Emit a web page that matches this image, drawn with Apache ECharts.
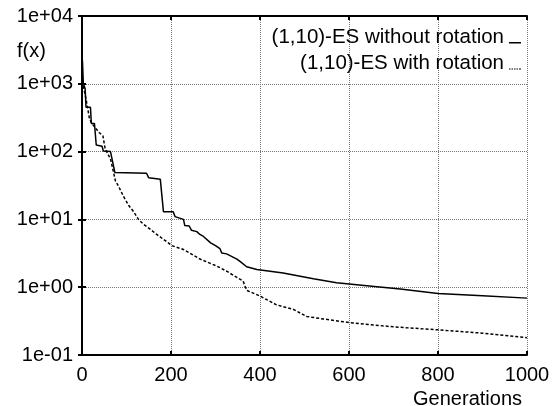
<!DOCTYPE html>
<html>
<head>
<meta charset="utf-8">
<script src="https://cdn.jsdelivr.net/npm/echarts@6/dist/echarts.min.js"></script>
<style>
  html, body { margin: 0; padding: 0; background: #fff; }
  #box { width: 553px; height: 406px; }
</style>
</head>
<body>
<div id="box"></div>
<script>
// (1,10)-ES without rotation
var genPlain = [1, 3, 7, 9, 19, 21, 28, 32, 45, 48, 64, 74, 145, 150, 176, 183, 205, 209, 213, 228, 231, 241, 246, 258, 265, 273, 289, 300, 310, 314, 325, 348, 355, 370, 393, 452, 520, 572, 640, 715, 800, 900, 1000];
var fPlain = [2200, 1000, 850, 450, 450, 260, 260, 125, 120, 102, 100, 49, 48, 41, 39, 13, 13, 11, 10.8, 10, 8.1, 8, 6.9, 6.6, 6.0, 5.6, 4.5, 4.1, 3.7, 3.2, 3.1, 2.6, 2.4, 2.0, 1.82, 1.62, 1.33, 1.16, 1.05, 0.94, 0.81, 0.75, 0.69];
// (1,10)-ES with rotation
var genRot = [1, 5, 9, 17, 24, 39, 47, 52, 64, 71, 75, 82, 93, 105, 116, 127, 138, 153, 168, 190, 202, 228, 265, 303, 325, 362, 370, 400, 437, 475, 505, 542, 602, 700, 800, 900, 1000];
var fRot = [1100, 800, 600, 300, 250, 190, 170, 110, 78, 49, 37, 31, 22, 16, 13, 10, 8.5, 7.2, 6.0, 4.7, 4.1, 3.6, 2.6, 2.05, 1.72, 1.23, 0.9, 0.74, 0.55, 0.47, 0.37, 0.34, 0.30, 0.26, 0.235, 0.21, 0.18];

var seriesNames = ['(1,10)-ES without rotation', '(1,10)-ES with rotation'];
var xTicks = [0, 200, 400, 600, 800, 1000];

function pairs(xs, ys) {
    return xs.map(function (x, i) { return [x, ys[i]]; });
}

function expLabel(v) {
    var e = Math.round(Math.log10(v));
    var a = Math.abs(e);
    return '1e' + (e < 0 ? '-' : '+') + (a < 10 ? '0' : '') + a;
}

var font = 'Liberation Sans, Arial, sans-serif';
var gridLine = { show: true, lineStyle: { type: 'dotted', color: '#777', width: 1 } };
var frame = { show: true, lineStyle: { color: '#000', width: 2 } };
var inTick = { show: true, inside: true, length: 4, lineStyle: { color: '#000', width: 2 } };

// legend samples sit low in a 12px box (the leading M0,0 keeps the box height)
var solidIcon = 'path://M0,0M0,10.5h12v1.5h-12z';
var dashIcon = 'path://M0,0M0,11h1.5v1h-1.5zM2.5,11h1.5v1h-1.5zM5,11h1.5v1h-1.5zM7.5,11h1.5v1h-1.5zM10,11h2v1h-2z';

var myChart = echarts.init(document.getElementById('box'));
var option = {
    animation: false,
    textStyle: { fontFamily: font },
    title: [
        { text: 'f(x)', left: 12, top: 36, textStyle: { fontSize: 20, fontWeight: 'normal', color: '#000', fontFamily: font } },
        { text: 'Generations', right: 26, top: 384, textStyle: { fontSize: 20, fontWeight: 'normal', color: '#000', fontFamily: font } }
    ],
    legend: {
        data: [{ name: seriesNames[0], icon: solidIcon }, { name: seriesNames[1], icon: dashIcon }],
        orient: 'vertical',
        align: 'right',
        right: 32,
        top: 27,
        padding: 0,
        itemGap: 5,
        itemWidth: 12,
        itemHeight: 12,
        symbolKeepAspect: false,
        itemStyle: { color: '#000', borderWidth: 0 },
        textStyle: { fontSize: 20.5, color: '#000', fontFamily: font }
    },
    grid: { left: 82, right: 26, top: 16, bottom: 51 },
    xAxis: [{
        type: 'value', min: 0, max: 1000, interval: 200,
        axisLine: frame, axisTick: inTick, splitLine: gridLine,
        axisLabel: { fontSize: 20, color: '#000', margin: 10, fontFamily: font,
            formatter: function (v) { return xTicks.indexOf(v) >= 0 ? String(v) : ''; } }
    }, {
        type: 'value', position: 'top', min: 0, max: 1000, interval: 200,
        axisLine: frame, axisTick: inTick, splitLine: { show: false }, axisLabel: { show: false }
    }],
    yAxis: [{
        type: 'log', logBase: 10, min: 0.1, max: 10000,
        axisLine: frame, axisTick: inTick, splitLine: gridLine, minorTick: { show: false },
        axisLabel: { fontSize: 20, color: '#000', margin: 9, fontFamily: font, formatter: expLabel }
    }, {
        type: 'log', logBase: 10, min: 0.1, max: 10000, position: 'right',
        axisLine: frame, axisTick: inTick, splitLine: { show: false }, axisLabel: { show: false }
    }],
    series: [{
        name: seriesNames[0], type: 'line', symbol: 'none',
        lineStyle: { color: '#000', width: 1.5 },
        itemStyle: { color: '#000' },
        data: pairs(genPlain, fPlain)
    }, {
        name: seriesNames[1], type: 'line', symbol: 'none',
        lineStyle: { color: '#000', width: 1.5, type: [3, 2] },
        itemStyle: { color: '#000' },
        data: pairs(genRot, fRot)
    }]
};
myChart.setOption(option);
</script>
</body>
</html>
